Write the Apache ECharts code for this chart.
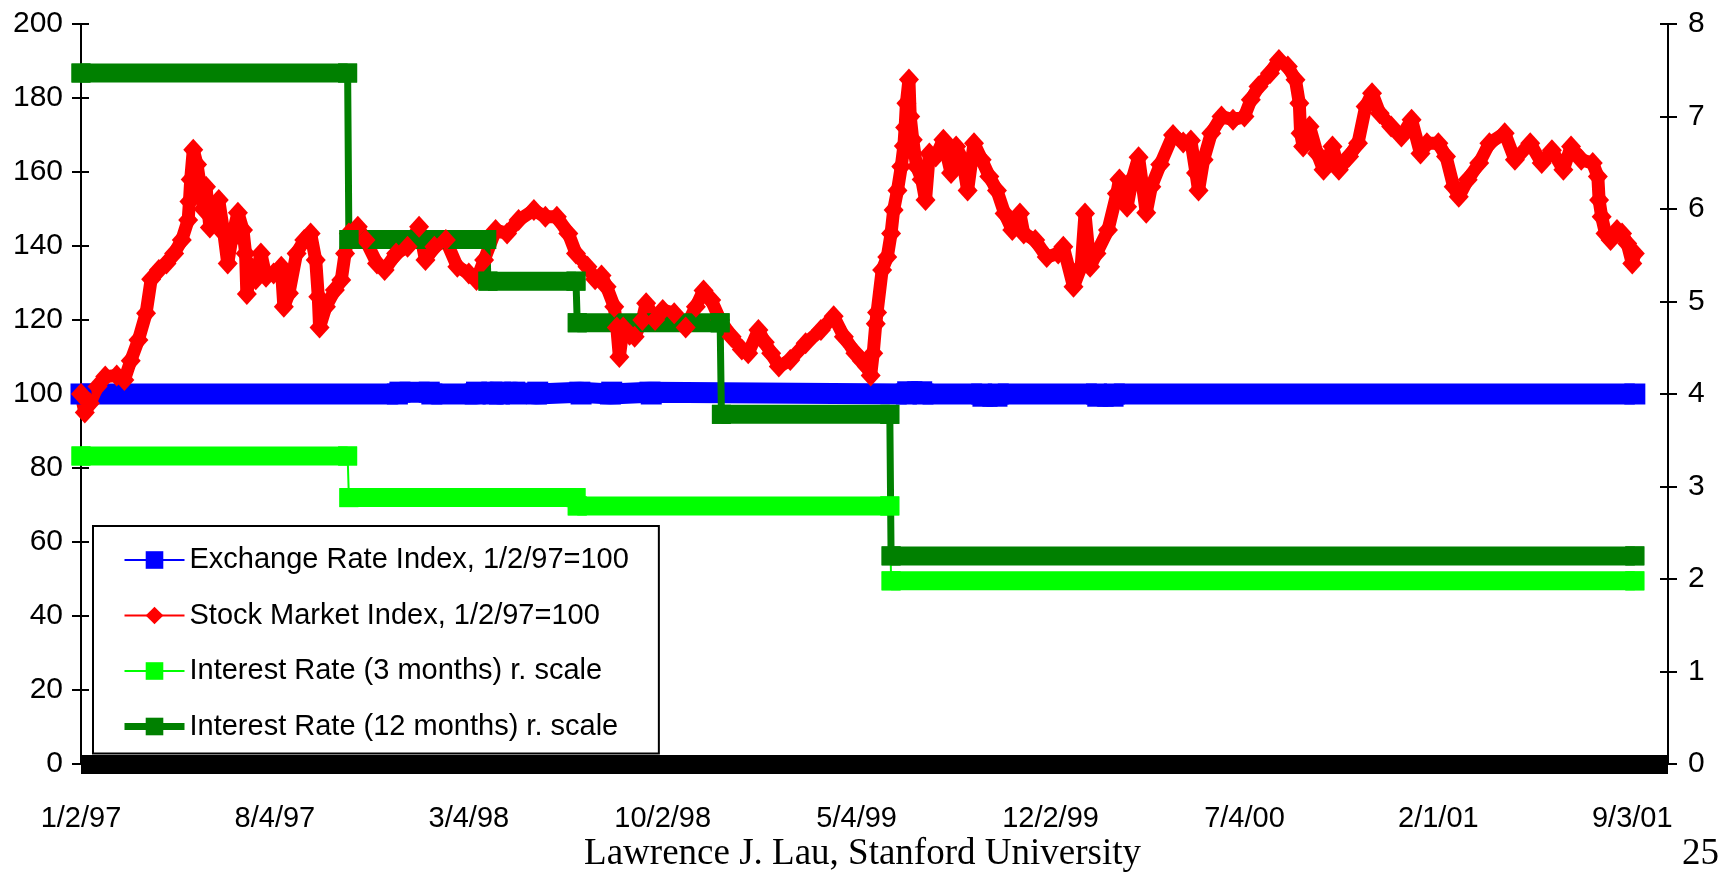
<!DOCTYPE html>
<html><head><meta charset="utf-8">
<script src="https://cdn.jsdelivr.net/npm/echarts@6/dist/echarts.min.js"></script>
<style>html,body{margin:0;padding:0;background:#fff;}#c{width:1725px;height:872px;}</style>
</head><body><div id="c"></div>
<script>
// x positions are weekday indexes counted from 1/2/97 (index 0)
const tickLabels = ['1/2/97','8/4/97','3/4/98','10/2/98','5/4/99','12/2/99','7/4/00','2/1/01','9/3/01'];
const labelStep = 152;

const exchDays   = [0,248,250,273,275,309,310,322,323,328,329,340,341,357,358,391,392,415,416,446,447,647,648,659,660,706,707,718,719,796,797,809,810,1218];
const exchValues = [100,100,100.5,100.5,100,100,100.5,100.5,100,100,100.5,100.5,100,100,100.5,100.5,100,100,100.5,100.5,100,100,100.6,100.6,100,100,99.4,99.4,100,100,99.4,99.4,100,100];

const stockDays = [0,3,7,13,19,28,34,39,45,51,55,61,67,73,79,84,85,86,88,91,94,96,98,101,103,108,112,115,118,123,127,129,130,133,137,141,145,151,157,159,163,169,175,180,184,186,187,192,199,204,207,210,217,223,232,238,247,256,265,270,277,286,295,304,310,316,325,334,343,355,364,373,382,388,397,403,408,412,418,420,422,425,430,434,440,443,450,456,465,474,482,488,494,501,510,518,523,531,536,541,547,556,568,580,590,598,607,612,616,619,621,623,624,628,632,635,637,640,643,645,646,647,649,650,652,655,659,662,665,670,676,682,686,691,695,700,706,712,718,724,730,736,739,748,757,766,770,778,784,787,791,796,805,812,814,820,824,829,835,839,846,856,864,870,874,876,880,886,894,903,912,917,923,932,939,946,952,955,956,958,963,969,974,981,986,994,1001,1007,1012,1018,1027,1035,1043,1050,1055,1064,1070,1076,1080,1087,1096,1104,1116,1124,1136,1145,1153,1162,1168,1176,1185,1189,1190,1192,1195,1199,1204,1208,1212,1216,1218];
const stockValues = [100,95,97.5,102,104.7,105,103.8,109,114.6,121.8,131,133.5,135.3,138,141.6,147,152,158,166,162,155,150,156,145,150,152.4,143.4,135.3,141.6,149,144.3,138,127,134.4,131,138,131.7,132.6,134.4,123.6,127.2,138,141.6,143.4,136.2,126.3,118,123.6,128.1,130.8,138,143.4,145.2,141.6,135.3,133.5,138,139.8,145.2,136.2,139.8,141.6,134.4,132.6,130.8,136.2,144.3,143.4,147,149.7,147.9,147.9,143.4,138,134.4,131,132,129,123.6,118,110,118,116,115.5,120,124.5,120,122.7,121.8,118,123.6,128,125.4,120,115.5,112,111,117.3,114,111,107.4,109.2,113.7,117.3,121,115.5,111,109,107.4,105,111,119,122,133.5,137,143.4,149.7,155,161.5,167,172,178.6,185,175,168.7,161.5,158,152.4,165,164.2,168.7,159.7,166.9,163.3,155,167.8,163.3,158.8,155,148.8,144.3,148.8,143.4,141.6,137,138,139.8,129,134.4,148.8,134.4,138,144.3,154.2,158,150.6,158,164,149,156,162,170,168,168.5,159.7,155,163.3,170.5,175,174.1,175,179.5,183.1,186.7,190.3,188.5,184.9,178.6,170.5,166.9,172.3,165,160.6,166.9,160.6,164.2,167.8,177.7,181.3,175.9,172.3,169.6,174.1,165,167.8,167.8,164.2,156,153.3,157.9,162.4,167.8,170.5,163.3,167.8,162.4,165.9,160.6,166.9,163.3,162.4,158.8,152.4,147.9,143.4,141.6,144.3,143.4,140.7,135.3,138];

const rate3Days   = [0,209,210,388,389,634,635,1218];
const rate3Values = [3.33,3.33,2.88,2.88,2.79,2.79,1.98,1.98];
const rate12Days   = [0,209,210,318,319,388,389,501,502,634,635,1218];
const rate12Values = [7.47,7.47,5.67,5.67,5.22,5.22,4.77,4.77,3.78,3.78,2.25,2.25];

const names = ['Exchange Rate Index, 1/2/97=100','Stock Market Index, 1/2/97=100','Interest Rate (3 months) r. scale','Interest Rate (12 months) r. scale'];

const pairs = (d, v) => d.map((x, i) => [x, v[i]]);
function bands(d, v) {
  const out = [];
  for (let i = 0; i < d.length; i += 2) {
    if (i > 0) out.push([(d[i - 1] + d[i]) / 2, '-']);
    out.push([d[i], v[i]]);
    out.push([d[i + 1], v[i + 1]]);
  }
  return out;
}

const FONT = "'Liberation Sans',Arial,sans-serif";
const chart = echarts.init(document.getElementById('c'), null, {renderer: 'canvas'});
const baseY = {
  type: 'value', splitLine: {show: false},
  axisLine: {show: true, lineStyle: {color: '#000', width: 2}},
  axisTick: {show: true, length: 9, lineStyle: {color: '#000', width: 2}},
  axisLabel: {color: '#000', fontSize: 30, fontFamily: FONT, margin: 18}
};
chart.setOption({
  animation: false,
  backgroundColor: '#fff',
  grid: {left: 81, right: 57, top: 24, bottom: 108, containLabel: false},
  xAxis: {
    type: 'value', min: 0, max: 1244, interval: labelStep,
    splitLine: {show: false},
    axisLine: {show: true, onZero: false, lineStyle: {color: '#000', width: 19, cap: 'butt'}},
    axisTick: {show: false},
    axisLabel: {color: '#000', fontSize: 29, fontFamily: FONT, margin: 40, showMaxLabel: false,
      formatter: v => (v % labelStep === 0 && tickLabels[v / labelStep]) ? tickLabels[v / labelStep] : ''}
  },
  yAxis: [
    Object.assign({}, baseY, {position: 'left', min: 0, max: 200, interval: 20}),
    Object.assign({}, baseY, {position: 'right', min: 0, max: 8, interval: 1, axisLabel: Object.assign({}, baseY.axisLabel, {margin: 20})}),
    {type: 'value', position: 'left', min: 0, max: 200, interval: 20, splitLine: {show: false}, axisLine: {show: false}, axisLabel: {show: false},
      axisTick: {show: true, inside: true, length: 8, lineStyle: {color: '#000', width: 2}}},
    {type: 'value', position: 'right', min: 0, max: 8, interval: 1, splitLine: {show: false}, axisLine: {show: false}, axisLabel: {show: false},
      axisTick: {show: true, inside: true, length: 8, lineStyle: {color: '#000', width: 2}}}
  ],
  legend: {
    orient: 'vertical', left: 93, top: 526,
    backgroundColor: '#fff', borderColor: '#000', borderWidth: 2,
    padding: [18, 30, 11, 28],
    itemWidth: 60, itemHeight: 22, itemGap: 23.5,
    textStyle: {color: '#000', fontSize: 29, fontFamily: FONT, lineHeight: 32},
    data: [
      {name: names[0], lineStyle: {width: 2}},
      {name: names[1], lineStyle: {width: 2}},
      {name: names[2], lineStyle: {width: 2}},
      {name: names[3], lineStyle: {width: 7}}
    ]
  },
  series: [
    {name: names[0], type: 'line', yAxisIndex: 0, data: pairs(exchDays, exchValues),
      color: '#0000ff', lineStyle: {width: 21, cap: 'butt'}, symbol: 'rect', symbolSize: 21, showAllSymbol: true},
    {name: names[1], type: 'line', yAxisIndex: 0, data: pairs(stockDays, stockValues),
      color: '#ff0000', lineStyle: {width: 13}, symbol: 'diamond', symbolSize: [20, 22], showAllSymbol: true},
    {name: 'band3', type: 'line', yAxisIndex: 1, data: bands(rate3Days, rate3Values),
      color: '#00ff00', lineStyle: {width: 19, cap: 'butt'}, symbol: 'rect', symbolSize: 19, connectNulls: false},
    {name: names[2], type: 'line', yAxisIndex: 1, data: pairs(rate3Days, rate3Values),
      color: '#00ff00', lineStyle: {width: 2}, symbol: 'rect', symbolSize: 19},
    {name: 'band12', type: 'line', yAxisIndex: 1, data: bands(rate12Days, rate12Values),
      color: '#008000', lineStyle: {width: 19, cap: 'butt'}, symbol: 'rect', symbolSize: 19, connectNulls: false},
    {name: names[3], type: 'line', yAxisIndex: 1, data: pairs(rate12Days, rate12Values),
      color: '#008000', lineStyle: {width: 7}, symbol: 'rect', symbolSize: 19}
  ],
  graphic: [
    {type: 'text', left: 'center', top: 836, style: {text: 'Lawrence J. Lau, Stanford University', fill: '#000', font: "37px 'Liberation Serif','Times New Roman',serif"}},
    {type: 'text', left: 1682, top: 836, style: {text: '25', fill: '#000', font: "37px 'Liberation Serif','Times New Roman',serif"}}
  ]
});
</script></body></html>
